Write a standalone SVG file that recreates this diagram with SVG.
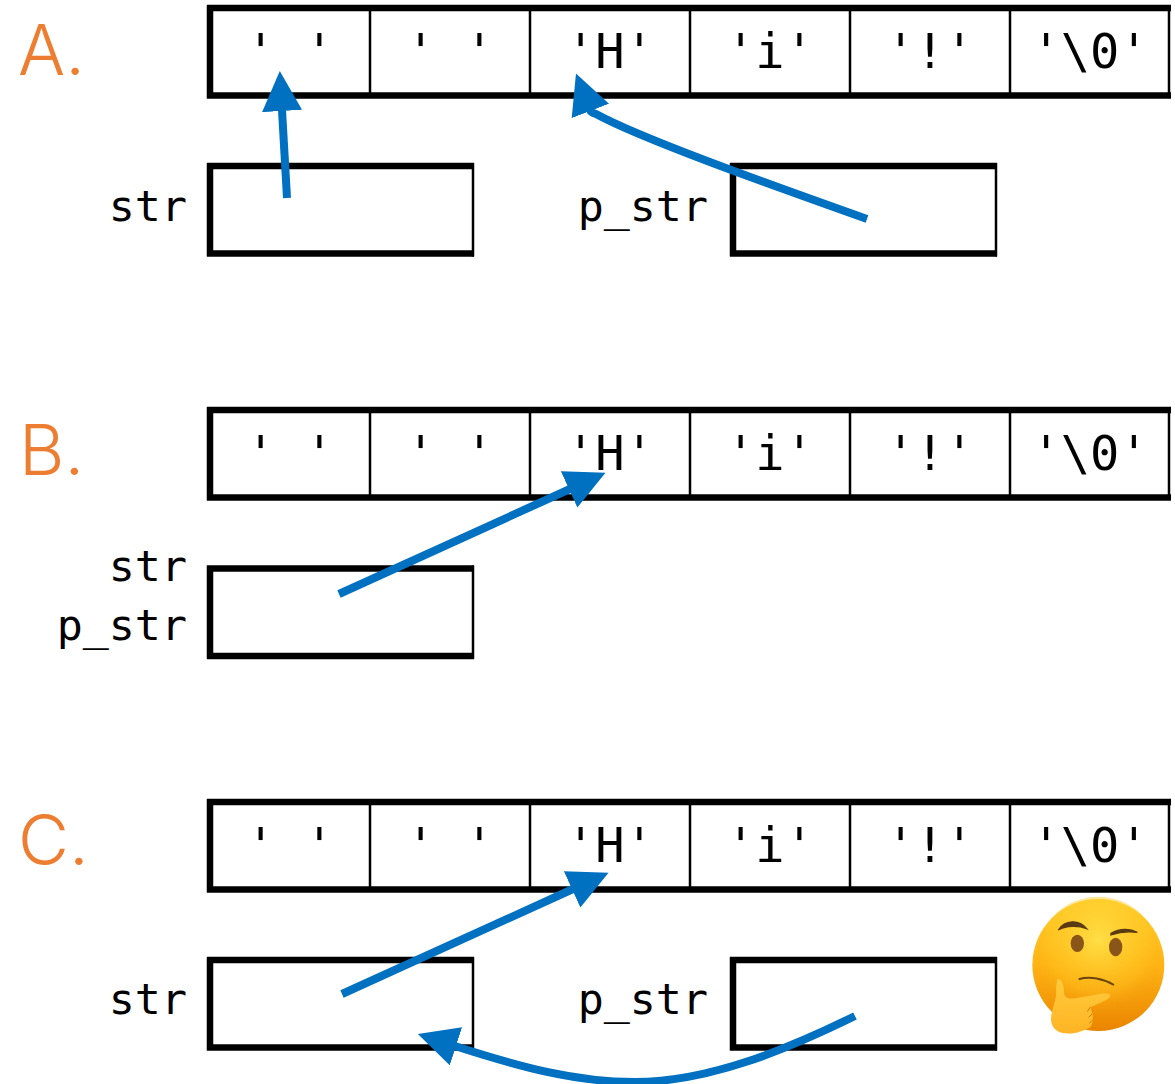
<svg xmlns="http://www.w3.org/2000/svg" width="1175" height="1084" viewBox="0 0 1175 1084">
<style>
.cell{fill:#fff;stroke:none}
.thick{fill:none;stroke:#000;stroke-width:6.5}
.thin{fill:none;stroke:#000;stroke-width:2.5}
.mono{font-family:"DejaVu Sans Mono","Liberation Mono",monospace;fill:#000}
.arr{font-size:48.7px;text-anchor:middle}
.lab{font-size:43.3px;text-anchor:end}
.sec{font-family:"Inter","Liberation Sans",sans-serif;font-weight:300;font-size:70px;fill:#ED7D31}
.con{fill:none;stroke:#0070C0;stroke-width:8}
</style>
<defs>
<marker id="head" markerUnits="userSpaceOnUse" markerWidth="42" markerHeight="42" refX="1" refY="20" orient="auto"><path d="M0 0L40 20L0 40Z" fill="#0070C0"/></marker>
<g id="array">
<rect class="cell" x="210" y="8" width="960" height="87"/>
<path class="thick" d="M207 8H1171M207 95.5H1171M210 5V98.5"/>
<path class="thin" d="M370 8V95M530 8V95M690 8V95M850 8V95M1010 8V95M1169 8V95"/>
<g class="mono arr">
<text x="290" y="68">' '</text><text x="450" y="68">' '</text><text x="610" y="68">'H'</text><text x="770" y="68">'i'</text><text x="930" y="68">'!'</text><text x="1090" y="68">'\0'</text>
</g>
</g>
<g id="box"><rect class="cell" x="0" y="0" width="263" height="87.5"/><path class="thick" d="M264 0H-3M264 87.5H-3M0 -3V90.5"/><path class="thin" d="M263 -3V90.5"/></g>
<linearGradient id="face" x1="0" y1="0" x2="0" y2="1"><stop offset="0" stop-color="#FFD232"/><stop offset=".5" stop-color="#FFB414"/><stop offset="1" stop-color="#EA8400"/></linearGradient>
<radialGradient id="glow" cx=".5" cy=".35" r=".6"><stop offset="0" stop-color="#FFE650" stop-opacity=".8"/><stop offset=".7" stop-color="#FFC41E" stop-opacity=".4"/><stop offset="1" stop-color="#F59A08" stop-opacity="0"/></radialGradient>
<linearGradient id="hand" x1="0" y1="0" x2="0" y2="1"><stop offset="0" stop-color="#FFCB3C"/><stop offset="1" stop-color="#FFB424"/></linearGradient>
</defs>

<g id="section-a">
<text class="sec" x="18" y="75">A.</text>
<use href="#array"/>
<g id="a-str"><text class="mono lab" x="187" y="221">str</text><use href="#box" x="210" y="166"/></g>
<g id="a-p_str"><text class="mono lab" x="708" y="221">p_str</text><use href="#box" x="733" y="166"/></g>
</g>

<g id="section-b">
<text class="sec" x="19" y="475">B.</text>
<use href="#array" y="402"/>
<g id="b-str"><text class="mono lab" x="187" y="581">str</text><text class="mono lab" x="187" y="640">p_str</text><use href="#box" x="210" y="568.5"/></g>
</g>

<g id="section-c">
<text class="sec" x="18" y="865">C.</text>
<use href="#array" y="794"/>
<g id="c-str"><text class="mono lab" x="187" y="1014">str</text><use href="#box" x="210" y="960"/></g>
<g id="c-p_str"><text class="mono lab" x="708" y="1014">p_str</text><use href="#box" x="733" y="960"/></g>
</g>

<g id="connectors">
<path class="con" marker-end="url(#head)" d="M287 198L282 110"/>
<path class="con" marker-end="url(#head)" d="M867 219C760 181 640 138 596 114Q591 112.6 590 110"/>
<path class="con" marker-end="url(#head)" d="M339 594L570 489"/>
<path class="con" marker-end="url(#head)" d="M342 994L573 889"/>
<path class="con" marker-end="url(#head)" d="M855 1016C790 1048 710 1082 635 1082C575 1082 520 1067 455 1046"/>
</g>

<g id="thinking-emoji" transform="translate(1000 880) scale(.3333)">
<circle cx="295" cy="255" r="198" fill="url(#face)"/>
<circle cx="295" cy="235" r="185" fill="url(#glow)"/>
<path d="M175 150C195 118 238 118 260 146C235 136 200 136 175 150Z" fill="#5A3A12" stroke="#5A3A12" stroke-width="4"/>
<path d="M333 160C360 145 390 145 412 157C385 153 360 155 333 165Z" fill="#5A3A12" stroke="#5A3A12" stroke-width="4"/>
<ellipse cx="232" cy="190" rx="20" ry="26" fill="#8A5518"/>
<ellipse cx="347" cy="201" rx="20" ry="28" fill="#8A5518"/>
<path d="M236 298C270 288 310 296 342 315" fill="none" stroke="#6B4410" stroke-width="6"/>
<path d="M172 297C185 295 192 315 192 335C192 350 200 358 225 355C260 350 290 342 315 340C335 340 335 352 318 360C300 370 285 375 270 382C280 400 282 425 272 440C250 455 215 465 185 458C160 452 148 430 155 400C160 375 172 350 168 325Z" fill="url(#hand)"/>
<path d="M270 382L262 395M276 402L266 412M278 420L268 430" stroke="#C77C10" stroke-width="3" fill="none"/>
</g>
</svg>
